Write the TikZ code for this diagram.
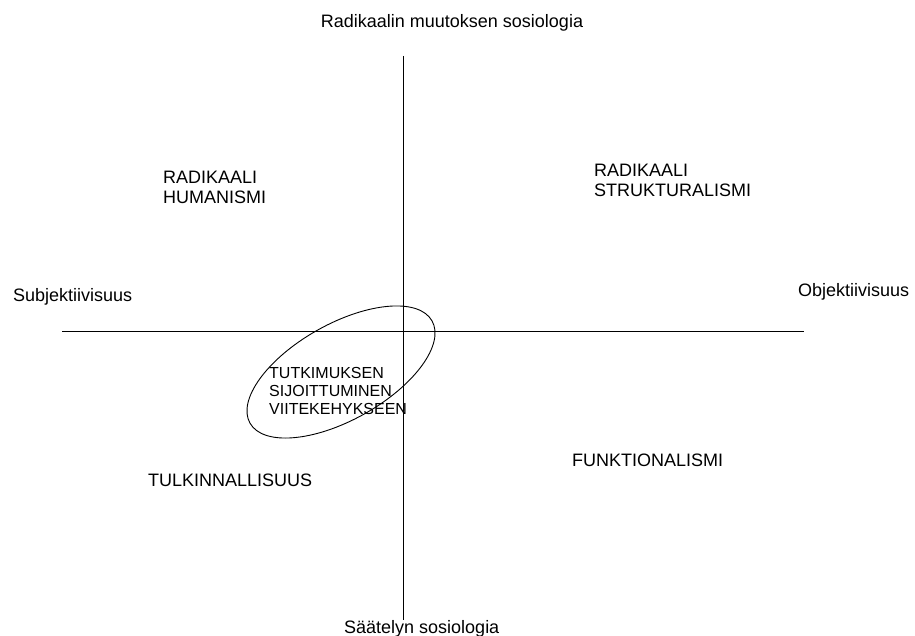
\documentclass[tikz,border=0pt]{standalone}
\usepackage{fontspec}
\setmainfont{Liberation Sans}
\usetikzlibrary{shapes.geometric}
\begin{document}
\begin{tikzpicture}[x=1pt,y=-1pt,
  label/.style={inner sep=0pt, anchor=base west, align=left,
    font=\fontsize{18}{20}\selectfont},
  axis/.style={line width=0.9pt, black}]
\useasboundingbox (0,0) rectangle (915,636);

% axes
\coordinate (top) at (403,56);
\coordinate (bottom) at (403,620);
\coordinate (left) at (62,331);
\coordinate (right) at (804,331);
\draw[axis] (top) -- (bottom);
\draw[axis] (left) -- (right);

% axis end labels
\node[label, anchor=base] (radical) at (452,28) {Radikaalin muutoksen sosiologia};
\node[label] (regulation) at (344,633) {Säätelyn sosiologia};
\node[label] (subj) at (13,301) {Subjektiivisuus};
\node[label] (obj) at (798,296) {Objektiivisuus};

% quadrant labels (anchored at the baseline of their last line)
\node[label] (rh) at (163,204) {RADIKAALI\\HUMANISMI};
\node[label] (rs) at (594,197) {RADIKAALI\\STRUKTURALISMI};
\node[label] (interp) at (148,486) {TULKINNALLISUUS};
\node[label] (func) at (572,466) {FUNKTIONALISMI};

% position of the study
\draw[line width=0.9pt] (341,372) ellipse [x radius=104.4pt, y radius=48pt, rotate=29.3];
\node[label, font=\fontsize{16}{18}\selectfont] (study) at (269,414)
  {TUTKIMUKSEN\\SIJOITTUMINEN\\VIITEKEHYKSEEN};
\end{tikzpicture}
\end{document}
